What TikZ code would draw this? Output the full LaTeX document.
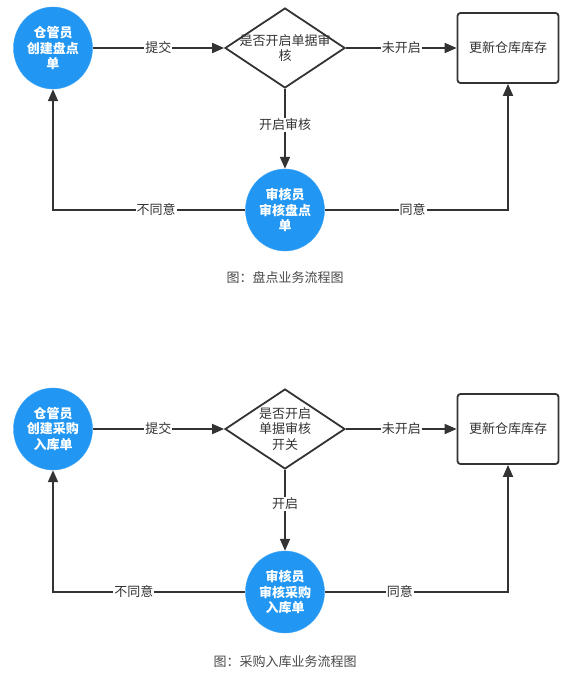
\documentclass[tikz,border=0pt]{standalone}
\usepackage{fontspec}
\setmainfont{Noto Sans CJK SC}
\usetikzlibrary{shapes.geometric,arrows.meta}
\definecolor{bluef}{HTML}{2196F3}
\definecolor{ink}{HTML}{333333}
\tikzset{
  every node/.style={font=\fontsize{13}{15.5}\selectfont, text=ink},
  role/.style={ellipse, fill=bluef, draw=bluef!85!white, minimum width=79pt, minimum height=82pt, inner sep=0pt, align=center, text=white, font=\fontsize{13}{15.5}\selectfont\bfseries},
  decide/.style={diamond, draw=ink, line width=1.8pt, aspect=1.5, minimum width=120pt, minimum height=80pt, inner sep=0pt, align=center},
  result/.style={rectangle, draw=ink, line width=1.8pt, rounded corners=3pt, minimum width=101pt, minimum height=70pt, align=center},
  flow/.style={draw=ink, line width=1.8pt, -{Triangle[length=12pt,width=10pt]}},
  lbl/.style={fill=white, inner sep=1pt},
  caption/.style={font=\fontsize{13}{15}\selectfont, text=ink!90!white}
}
\begin{document}
\begin{tikzpicture}[x=1pt,y=-1pt]
\useasboundingbox (0,0) rectangle (565,674);
% ---------- top diagram ----------
\node[role] (a1) at (53,48) {仓管员\\创建盘点\\单};
\node[decide] (d1) at (285,48) {};
\node[align=center, text width=100pt] (d1t) at (285,48) {是否开启单据审\\核};
\node[result] (r1) at (508,48) {更新仓库库存};
\node[role] (b1) at (285,210) {审核员\\审核盘点\\单};
\draw[flow] (a1.east) -- node[lbl] {提交} (d1.west);
\draw[flow] (d1.east) -- node[lbl] {未开启} (r1.west);
\draw[flow] (d1.south) -- node[lbl, pos=0.45] {开启审核} (b1.north);
\draw[flow] (b1.west) -| node[lbl, pos=0.232] {不同意} (a1.south);
\draw[flow] (b1.east) -| node[lbl, pos=0.24] {同意} (r1.south);
\node[caption] (cap1) at (285,277) {图：盘点业务流程图};
% ---------- bottom diagram ----------
\node[role] (a2) at (53,429) {仓管员\\创建采购\\入库单};
\node[decide] (d2) at (285,429) {};
\node[align=center] (d2t) at (285,429) {是否开启\\单据审核\\开关};
\node[result] (r2) at (508,429) {更新仓库库存};
\node[role] (b2) at (285,592) {审核员\\审核采购\\入库单};
\draw[flow] (a2.east) -- node[lbl] {提交} (d2.west);
\draw[flow] (d2.east) -- node[lbl] {未开启} (r2.west);
\draw[flow] (d2.south) -- node[lbl, pos=0.42] {开启} (b2.north);
\draw[flow] (b2.west) -| node[lbl, pos=0.29] {不同意} (a2.south);
\draw[flow] (b2.east) -| node[lbl, pos=0.205] {同意} (r2.south);
\node[caption] (cap2) at (285,662) {图：采购入库业务流程图};
\end{tikzpicture}
\end{document}
